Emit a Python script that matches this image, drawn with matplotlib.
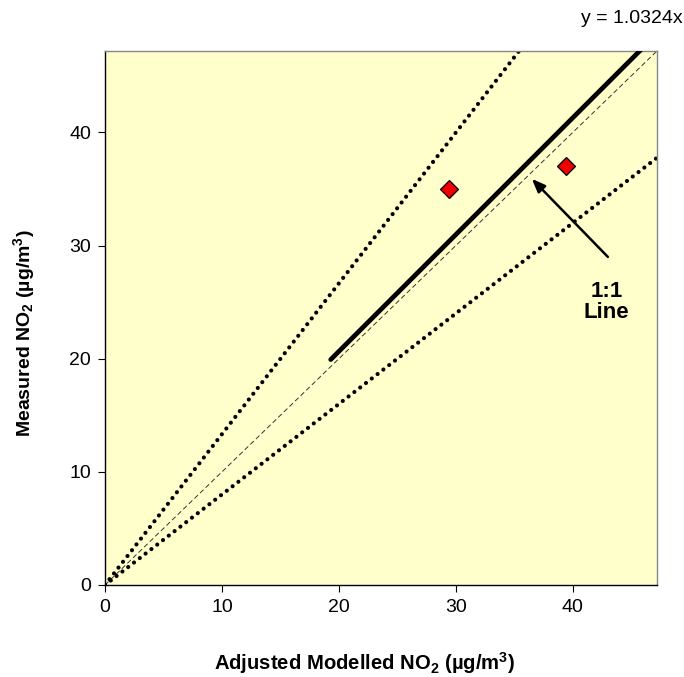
import matplotlib
matplotlib.use("Agg")
import matplotlib.pyplot as plt
import numpy as np

plt.rcParams['font.family'] = ['Liberation Sans', 'DejaVu Sans']
plt.rcParams['mathtext.fontset'] = 'custom'
plt.rcParams['mathtext.rm'] = 'Liberation Sans:bold'
plt.rcParams['mathtext.bf'] = 'Liberation Sans:bold'
plt.rcParams['mathtext.it'] = 'Liberation Sans:bold'
plt.rcParams['mathtext.default'] = 'regular'

# Data
modelled = [29.4, 39.4]
measured = [35.0, 37.05]
trend_slope = 1.0324
trend_x = [19.3, 47.2]
upper_slope = 1.333
lower_slope = 0.8
axis_max = 47.2
ticks = [0, 10, 20, 30, 40]

fig = plt.figure(figsize=(6.84, 6.77), dpi=100)
ax = fig.add_axes([0.1535, 0.1359, 0.807, 0.7888])
ax.set_facecolor('#FFFFCC')

xx = np.array([0, axis_max * 1.5])
# 1:1 line
ax.plot(xx, xx, color='#333333', lw=0.7, ls=(0, (5, 3)), zorder=2)
# +/- lines
ax.plot(xx, upper_slope * xx, color='black', lw=3.0, ls=(0, (0.01, 1.75)),
        dash_capstyle='round', zorder=2)
ax.plot(xx, lower_slope * xx, color='black', lw=3.0, ls=(0, (0.01, 1.75)),
        dash_capstyle='round', zorder=2)
# trend line
tx = np.array(trend_x)
ax.plot(tx, trend_slope * tx, color='black', lw=3.4, solid_capstyle='round', zorder=3)

ax.plot(modelled, measured, ls='none', marker='D', markersize=9.5,
        markerfacecolor='#EE0000', markeredgecolor='black', markeredgewidth=0.9, zorder=4)

ax.annotate('', xy=(36.5, 35.9), xytext=(43.0, 29.0),
            arrowprops=dict(arrowstyle='-|>,head_length=0.8,head_width=0.32',
                            color='black', lw=1.8, shrinkA=0, shrinkB=0))
ax.text(42.9, 25.0, '1:1\nLine', ha='center', va='center', fontsize=16,
        fontweight='bold', linespacing=1.0)

ax.set_xlim(0, axis_max)
ax.set_ylim(0, axis_max)
ax.set_xticks(ticks)
ax.set_yticks(ticks)
ax.tick_params(direction='out', length=5, width=0.8, labelsize=14, pad=5)
for s in ['left', 'bottom']:
    ax.spines[s].set_color('black')
    ax.spines[s].set_linewidth(1.0)
for s in ['top', 'right']:
    ax.spines[s].set_color('#888888')
    ax.spines[s].set_linewidth(1.0)

ax.set_xlabel('Adjusted Modelled NO$_2$ (µg/m$^3$)', fontsize=14.6, fontweight='bold')
ax.xaxis.set_label_coords(0.471, -0.121)
ax.set_ylabel('Measured NO$_2$ (µg/m$^3$)', fontsize=14, fontweight='bold')
ax.yaxis.set_label_coords(-0.123, 0.471)

fig.text(0.998, 0.973, 'y = 1.0324x', ha='right', va='center', fontsize=14)

fig.savefig('out.png', dpi=100)
